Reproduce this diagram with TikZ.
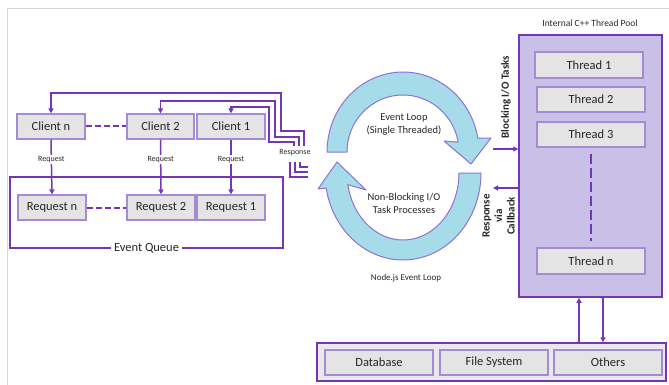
\documentclass[tikz,border=0pt]{standalone}
\usepackage{fontspec}
\setmainfont{Carlito}
\usetikzlibrary{arrows.meta}
\definecolor{mpurple}{HTML}{7436B4}
\definecolor{lav}{HTML}{A58BD6}
\definecolor{boxfill}{HTML}{E4E4E4}
\definecolor{poolfill}{HTML}{C9C0E8}
\definecolor{arcfill}{HTML}{A6DCEA}
\definecolor{arcline}{HTML}{9070D4}
\tikzset{
  gbox/.style={draw=lav, fill=boxfill, line width=1.2pt, inner sep=0pt,
    font=\fontsize{12.5}{14}\selectfont, text=black!85},
  pline/.style={draw=mpurple, line width=1.5pt},
  parrow/.style={pline, -{Triangle[length=5pt,width=5pt]}},
  smalllab/.style={font=\fontsize{8}{9}\selectfont, text=black!85, fill=white, inner sep=1pt},
  rotlab/.style={font=\bfseries\fontsize{11}{11.5}\selectfont, text=black!85, rotate=90, align=center, inner sep=0pt},
  loopband/.style={fill=arcfill, draw=arcline, line width=1pt, line join=round},
  pdash/.style={pline, line width=2pt, dash pattern=on 6pt off 3pt},
}
\begin{document}
\begin{tikzpicture}[x=1pt,y=-1pt]
\useasboundingbox (0,0) rectangle (669,385);
% frame
\draw[black!15, line width=1pt] (7,385) -- (7,9) -- (669,9);

% clients
\node[gbox, minimum width=68pt, minimum height=25pt] (cn) at (51,126.5) {Client n};
\node[gbox, minimum width=67pt, minimum height=25pt] (c2) at (160.5,126.5) {Client 2};
\node[gbox, minimum width=68pt, minimum height=25pt] (c1) at (231,126.5) {Client 1};
% event queue
\node[pline, minimum width=273pt, minimum height=71pt, inner sep=0pt] (eq) at (146.5,212.5) {};
\node[fill=white, inner sep=3pt, font=\fontsize{12.5}{14}\selectfont, text=black!85] (eql) at (eq.south) {Event Queue};
% requests
\node[gbox, minimum width=68pt, minimum height=25pt] (rn) at (52,207.5) {Request n};
\node[gbox, minimum width=68pt, minimum height=25pt] (r2) at (161,207.5) {Request 2};
\node[gbox, minimum width=68pt, minimum height=25pt] (r1) at (231,207.5) {Request 1};

\draw[pdash] (cn.east) -- (c2.west);
\draw[pdash] (rn.east) -- (r2.west);

\draw[parrow] (cn.south) -- node[smalllab, pos=0.36] {Request} (rn.north);
\draw[parrow] (c2.south) -- node[smalllab, pos=0.36] {Request} (r2.north);
\draw[parrow] (c1.south) -- node[smalllab, pos=0.36] {Request} (r1.north);

% response lines
\coordinate (ro) at (304,146);
\coordinate (rm) at (299,146);
\coordinate (ri) at (294,146);
\draw[parrow, line width=1.3pt] (ro) -- (304,131) -- (281,131) -- (281,93) -| (cn.north);
\draw[parrow, line width=1.3pt] (rm) -- (299,137) -- (275,137) -- (275,101) -| (c2.north);
\draw[parrow, line width=1.3pt] (ri) -- (294,142) -- (269,142) -- (269,107) -| (c1.north);
\node[font=\fontsize{8}{9}\selectfont, text=black!85, inner sep=0pt] (resp) at (295,153) {Response};
\coordinate (l1) at (290,162);
\coordinate (l2) at (295,162);
\coordinate (l3) at (300,162);
\draw[pline, line width=1.3pt] (l1) |- (308,177);
\draw[pline, line width=1.3pt] (l2) |- (308,172);
\draw[pline, line width=1.3pt] (l3) |- (308,167);

% event loop arcs
\draw[loopband] (327,152)
  -- plot[domain=180:350, samples=50] ({403+76*cos(\x)},{152+80*sin(\x)})
  -- (491,138) -- (471,164) -- (444,141)
  -- plot[domain=350:180, samples=50] ({403+56*cos(\x)},{152+57*sin(\x)})
  -- cycle;
\draw[loopband] (481,173)
  -- plot[domain=0:170, samples=50] ({403+78*cos(\x)},{173+87*sin(\x)})
  -- (318,189) -- (337,162) -- (366,190)
  -- plot[domain=170:0, samples=50] ({403+56*cos(\x)},{173+67*sin(\x)})
  -- cycle;
\node[font=\fontsize{10.5}{13}\selectfont, text=black!85, align=center] (el) at (404,124.5) {Event Loop\\(Single Threaded)};
\node[font=\fontsize{10.5}{13}\selectfont, text=black!85, align=center] (nb) at (404,203) {Non-Blocking I/O\\Task Processes};
\node[font=\fontsize{9}{11}\selectfont, text=black!85] (nel) at (406,278) {Node.js Event Loop};

% thread pool
\node[draw=mpurple, fill=poolfill, line width=1.5pt, minimum width=143pt, minimum height=262pt, inner sep=0pt] (pool) at (590.5,166) {};
\node[font=\fontsize{9.5}{11}\selectfont, text=black!85] (pt) at (590,23) {Internal C++ Thread Pool};
\node[gbox, minimum width=108pt, minimum height=26pt] (t1) at (589,65) {Thread 1};
\node[gbox, minimum width=108pt, minimum height=25pt] (t2) at (591,99.5) {Thread 2};
\node[gbox, minimum width=108pt, minimum height=25pt] (t3) at (591,134.5) {Thread 3};
\node[gbox, minimum width=108pt, minimum height=26pt] (tn) at (591,261) {Thread n};
\draw[pline, dash pattern=on 10pt off 4pt] (t3.south) ++(0,6) coordinate (d1) -- (tn.north |- 0,241);

% blocking / callback
\coordinate (ba) at (493,149);
\coordinate (ca) at (493,188);
\draw[parrow, line width=1.3pt] (ba) -- (ba -| pool.west);
\draw[parrow, line width=1.3pt] (ca -| pool.west) -- (ca);
\node[rotlab] (blk) at (506,97) {Blocking I/O Tasks};
\node[rotlab, font=\bfseries\fontsize{11}{12.5}\selectfont] (cb) at (498.5,216) {Response\\via\\Callback};

% storage
\node[draw=mpurple, fill=boxfill!80, line width=1.5pt, minimum width=349pt, minimum height=38pt, inner sep=0pt] (st) at (491.5,362) {};
\node[gbox, minimum width=108pt, minimum height=25pt] (db) at (379,362.5) {Database};
\node[gbox, minimum width=108pt, minimum height=25pt] (fs) at (494,362.5) {File System};
\node[gbox, minimum width=108pt, minimum height=25pt] (ot) at (608,362.5) {Others};
\draw[parrow] (st.north -| 579,0) -- (pool.south -| 579,0);
\draw[parrow] (pool.south -| 603,0) -- (st.north -| 603,0);
\end{tikzpicture}
\end{document}
